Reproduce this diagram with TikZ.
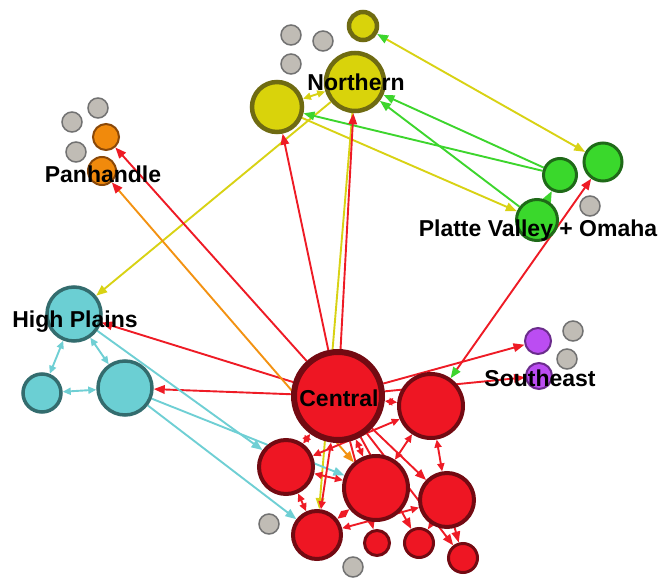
\documentclass[tikz,border=0pt]{standalone}
\usepackage{fontspec}
\setmainfont{Liberation Sans}
\usetikzlibrary{arrows.meta}

\definecolor{yelfill}{HTML}{D9D30B}
\definecolor{yelbord}{HTML}{6F6B12}
\definecolor{yelline}{HTML}{D8D214}
\definecolor{grnfill}{HTML}{3AD82C}
\definecolor{grnbord}{HTML}{1F6A18}
\definecolor{grnline}{HTML}{3DD52D}
\definecolor{redfill}{HTML}{EE1623}
\definecolor{redbord}{HTML}{730A12}
\definecolor{redline}{HTML}{EE1B25}
\definecolor{cyafill}{HTML}{6BCFD3}
\definecolor{cyabord}{HTML}{336C6E}
\definecolor{cyaline}{HTML}{6FCFD4}
\definecolor{orafill}{HTML}{F18A0C}
\definecolor{orabord}{HTML}{8A4808}
\definecolor{oraline}{HTML}{F39212}
\definecolor{purfill}{HTML}{BB4DF2}
\definecolor{purbord}{HTML}{6B2C8C}
\definecolor{gryfill}{HTML}{C0BCB5}
\definecolor{grybord}{HTML}{727272}

\pgfdeclarelayer{edges}
\pgfsetlayers{edges,main}

\begin{document}
\begin{tikzpicture}[x=1pt, y=-1pt,
    tri/.tip={Triangle[length=11pt,width=8.5pt]},
    trs/.tip={Triangle[length=8pt,width=7pt]},
    dot/.style={circle, inner sep=0pt},
    yelnode/.style={dot, fill=yelfill, draw=yelbord, line width=4.5pt},
    grnnode/.style={dot, fill=grnfill, draw=grnbord, line width=3pt},
    rednode/.style={dot, fill=redfill, draw=redbord, line width=4pt},
    cyanode/.style={dot, fill=cyafill, draw=cyabord, line width=3.5pt},
    oranode/.style={dot, fill=orafill, draw=orabord, line width=2pt},
    purnode/.style={dot, fill=purfill, draw=purbord, line width=2pt},
    grynode/.style={dot, fill=gryfill, draw=grybord, line width=1.5pt, minimum size=20pt},
    yelarr/.style={draw=yelline, line width=1.9pt, -tri},
    grnarr/.style={draw=grnline, line width=1.9pt, -tri},
    redarr/.style={draw=redline, line width=1.9pt, -tri},
    cyaarr/.style={draw=cyaline, line width=1.9pt, -tri},
    oraarr/.style={draw=oraline, line width=1.9pt, -tri},
    yelbi/.style={draw=yelline, line width=1.9pt, trs-trs},
    redbi/.style={draw=redline, line width=1.9pt, trs-trs},
    cyabi/.style={draw=cyaline, line width=1.9pt, trs-trs},
    lbl/.style={font=\fontsize{23}{25}\selectfont\bfseries, text=black, inner sep=0pt, anchor=base}
]
\useasboundingbox (0,0) rectangle (672,578);

% Northern
\node[yelnode, minimum size=28pt] (y1) at (363,26) {};
\node[yelnode, minimum size=58pt] (yn) at (355,82) {};
\node[yelnode, minimum size=50pt] (yl) at (277,107) {};
\node[grynode] (gn1) at (291,35) {};
\node[grynode] (gn2) at (323,41) {};
\node[grynode] (gn3) at (291,64) {};

% Panhandle
\node[oranode, minimum size=26pt] (po1) at (106,137) {};
\node[oranode, minimum size=28pt] (po2) at (102,171) {};
\node[grynode] (gp1) at (98,108) {};
\node[grynode] (gp2) at (72,122) {};
\node[grynode] (gp3) at (76,152) {};

% Platte Valley + Omaha
\node[grnnode, minimum size=38pt] (gv1) at (603,162) {};
\node[grnnode, minimum size=33pt] (gv2) at (560,175) {};
\node[grnnode, minimum size=41pt] (gv3) at (537,220) {};
\node[grynode] (gpv) at (590,206) {};

% High Plains
\node[cyanode, minimum size=54pt] (hp1) at (74,314) {};
\node[cyanode, minimum size=38pt] (hp2) at (42,393) {};
\node[cyanode, minimum size=54pt] (hp3) at (125,388) {};

% Central
\node[rednode, line width=6pt, minimum size=88pt] (c0) at (338,396) {};
\node[rednode, minimum size=64pt] (c1) at (431,406) {};
\node[rednode, minimum size=54pt] (c2) at (286,467) {};
\node[rednode, minimum size=64pt] (c3) at (376,488) {};
\node[rednode, minimum size=54pt] (c4) at (447,500) {};
\node[rednode, minimum size=48pt] (c5) at (317,535) {};
\node[rednode, line width=3pt, minimum size=25pt] (c6) at (377,543) {};
\node[rednode, line width=3pt, minimum size=29pt] (c7) at (419,543) {};
\node[rednode, line width=3pt, minimum size=29pt] (c8) at (463,558) {};
\node[grynode] (gc1) at (269,524) {};
\node[grynode] (gc2) at (353,567) {};

% Southeast
\node[purnode, minimum size=26pt] (sp1) at (538,341) {};
\node[purnode, minimum size=26pt] (sp2) at (539,376) {};
\node[grynode] (gs1) at (573,331) {};
\node[grynode] (gs2) at (567,359) {};

\begin{pgfonlayer}{edges}
\draw (y1) edge[yelarr, {tri[color=grnline]}-tri] (gv1)
      (yl) edge[yelarr] (gv3)
      (yl) edge[yelbi] (yn)
      (yn) edge[yelarr] (hp1)
      (yn) edge[yelarr] (c5);
\draw (gv2) edge[grnarr] (yl)
      (gv2) edge[grnarr] (yn)
      (gv3) edge[grnarr] (yn)
      (gv3) edge[grnarr] (gv2)
      (c1) edge[redarr, {tri[color=grnline]}-tri] (gv1);
\draw (c0) edge[redarr] (po1)
      (c0) edge[redarr] (yn)
      (c0) edge[redarr] (yl)
      (c0) edge[redarr] (hp1)
      (c0) edge[redarr] (hp3)
      (c0) edge[redarr] (sp1)
      (c0) edge[redarr] (sp2)
      (po2) edge[oraarr, {tri[color=redline]}-tri] (c3);
\draw (hp1) edge[cyabi] (hp2)
      (hp1) edge[cyabi] (hp3)
      (hp2) edge[cyabi] (hp3)
      (hp1) edge[cyaarr] (c2)
      (hp3) edge[cyaarr] (c3)
      (hp3) edge[cyaarr] (c5);
\draw (c0) edge[redbi] (c1)
      (c0) edge[redbi] (c2)
      (c0) edge[redbi] (c3)
      (c0) edge[redarr] (c4)
      (c0) edge[redbi] (c5)
      (c0) edge[redarr] (c6)
      (c0) edge[redarr] (c7)
      (c0) edge[redarr] (c8)
      (c1) edge[redbi] (c2)
      (c1) edge[redbi] (c3)
      (c1) edge[redbi] (c4)
      (c2) edge[redbi] (c3)
      (c2) edge[redbi] (c5)
      (c3) edge[redbi] (c5)
      (c4) edge[redbi] (c5)
      (c4) edge[redarr] (c7)
      (c4) edge[redarr] (c8);
\end{pgfonlayer}

% labels
\node[lbl] (lnorth) at (356,90) {Northern};
\node[lbl] (lpan) at (103,182) {Panhandle};
\node[lbl] (lplatte) at (538,236) {Platte Valley + Omaha};
\node[lbl] (lhigh) at (75,327) {High Plains};
\node[lbl] (lcent) at (339,406) {Central};
\node[lbl] (lsouth) at (540,386) {Southeast};
\end{tikzpicture}
\end{document}
